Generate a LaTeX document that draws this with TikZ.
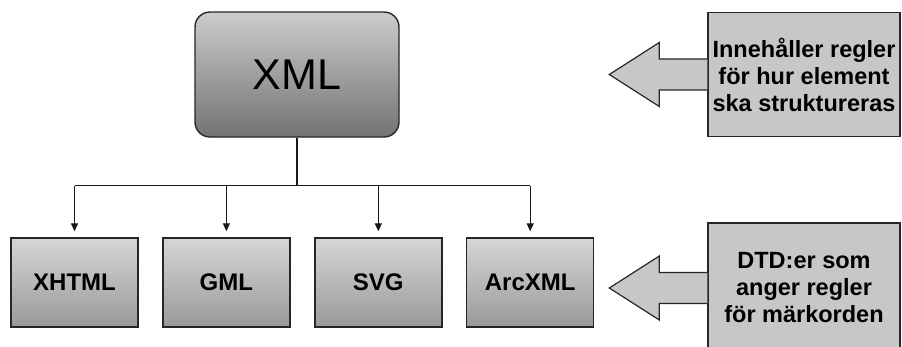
\documentclass[tikz,border=0pt]{standalone}
\usepackage{fontspec}
\setmainfont{Liberation Sans}
\usetikzlibrary{arrows.meta,positioning,calc}

\tikzset{
  root/.style={draw=black!85, line width=1.4pt, rounded corners=15pt, shade, top color=black!20, bottom color=black!55,
    minimum width=204pt, minimum height=125pt, font=\fontsize{43}{50}\selectfont},
  lang/.style={draw=black!85, line width=1.4pt, shade, top color=black!16, bottom color=black!40,
    minimum width=127pt, minimum height=89pt, font=\fontsize{24}{28}\selectfont\bfseries},
  note/.style={draw=black!85, line width=1.4pt, fill=black!22, minimum width=192pt, minimum height=124pt,
    align=center, font=\fontsize{23.5}{27}\selectfont\bfseries},
  callarrow/.style={draw=black!85, line width=1.2pt, fill=black!22},
  link/.style={draw=black!90, line width=1.3pt},
}

\begin{document}
\begin{tikzpicture}[x=1pt,y=1pt]
\useasboundingbox (0,0) rectangle (902,-346);
\node[root] (xml) at (297,-74.5) {XML};
\node[lang] (xhtml) at (74.5,-282.5) {XHTML};
\node[lang, right=23.5pt of xhtml] (gml) {GML};
\node[lang, right=23.5pt of gml] (svg) {SVG};
\node[lang, right=23.5pt of svg] (arcxml) {ArcXML};
\coordinate (bar) at ($(xml.south)+(0,-48)$);
\draw[link] (xml.south) -- (bar);
\draw[link] (bar -| xhtml) -- (bar -| arcxml);
\foreach \n in {xhtml,gml,svg,arcxml}
  \draw[link, -{Triangle[width=7pt,length=8pt]}, shorten >=6pt] (bar -| \n) -- (\n.north);
% callouts with block arrows pointing left
\node[note] (rules) at (804,-74.5) {Innehåller regler\\för hur element\\ska struktureras};
\node[note, minimum height=130pt] (dtd) at (804,-288) {DTD:er som\\anger regler\\för märkorden};
\foreach \c in {rules,dtd}
  \draw[callarrow] ([yshift=15.5pt]\c.west) -- ++(-48pt,0) -- ++(0,16.5pt) -- ++(-50pt,-32pt)
    -- ++(50pt,-32pt) -- ++(0,16.5pt) -- ([yshift=-15.5pt]\c.west);
\end{tikzpicture}
\end{document}
